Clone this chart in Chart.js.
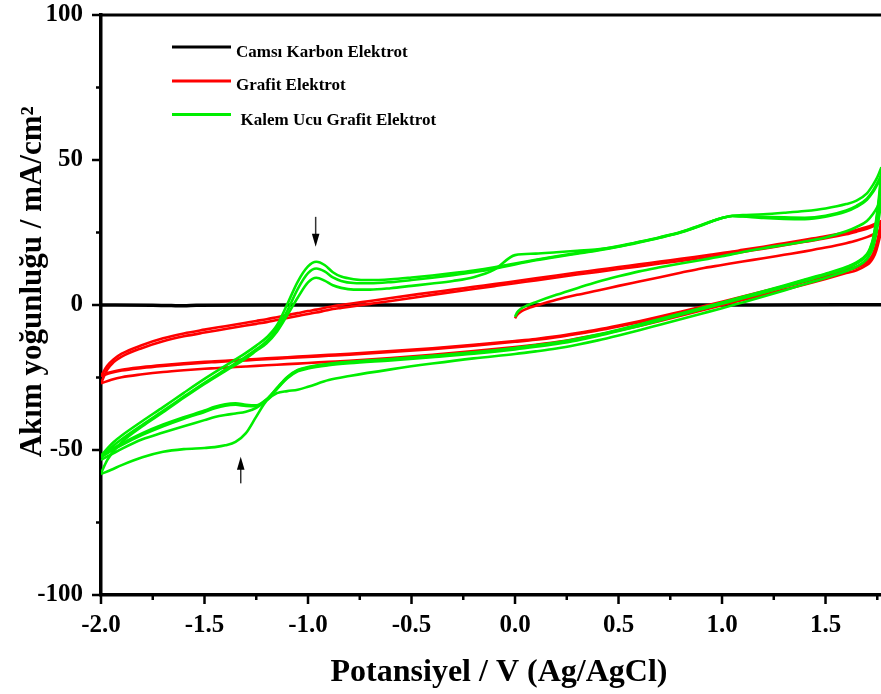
<!DOCTYPE html>
<html>
<head>
<meta charset="utf-8">
<script src="https://cdn.jsdelivr.net/npm/chart.js"></script>
<style>
  html, body { margin: 0; padding: 0; background: #fff; }
  canvas { display: block; }
</style>
</head>
<body>
<canvas id="cv" width="881" height="694"></canvas>
<script>
// --- data (V vs Ag/AgCl, mA/cm2) ---

const seriesNames = ['Camsı Karbon Elektrot', 'Grafit Elektrot', 'Kalem Ucu Grafit Elektrot'];
const xTickValues = [-2.0, -1.5, -1.0, -0.5, 0.0, 0.5, 1.0, 1.5];
const xTickLabels = ['-2.0', '-1.5', '-1.0', '-0.5', '0.0', '0.5', '1.0', '1.5'];
const yTickValues = [-100, -50, 0, 50, 100];
const yTickLabels = ['-100', '-50', '0', '50', '100'];

// potential grids for the three kinds of sweep
const vStart = [0.0, 0.01, 0.03, 0.06, 0.1, 0.2, 0.3, 0.4, 0.5, 0.6, 0.7, 0.8, 0.9, 1.0, 1.1, 1.2, 1.3, 1.4, 1.5, 1.6, 1.65, 1.7, 1.73, 1.75, 1.77];
const vUp = [-2.0, -1.97, -1.94, -1.9, -1.8, -1.7, -1.6, -1.5, -1.4, -1.3, -1.25, -1.2, -1.15, -1.1, -1.05, -1.0,
  -0.96, -0.92, -0.88, -0.84, -0.78, -0.7, -0.6, -0.5, -0.4, -0.3, -0.2, -0.1,
  0.0, 0.1, 0.2, 0.3, 0.4, 0.5, 0.6, 0.7, 0.8, 0.9, 0.95, 1.0, 1.05, 1.1, 1.2, 1.3, 1.4, 1.5, 1.6, 1.65, 1.7, 1.73, 1.75, 1.77];
const vDown = [1.77, 1.76, 1.745, 1.73, 1.715, 1.7, 1.65, 1.6, 1.5, 1.4, 1.3, 1.2, 1.1, 1.0,
  0.9, 0.8, 0.7, 0.6, 0.5, 0.4, 0.3, 0.2, 0.1, 0.0, -0.2, -0.4, -0.6, -0.8, -0.9, -1.0,
  -1.05, -1.1, -1.15, -1.2, -1.25, -1.3, -1.35, -1.4, -1.45, -1.5, -1.6, -1.7, -1.8, -1.9, -1.95, -2.0];

// glassy carbon: practically flat
const vBlack = [-2.0, -1.75, -1.66, -1.6, -1.54, -1.2, -0.5, 0.5, 1.2, 1.77];
const iBlack = [0, -0.05, -0.2, -0.3, -0.1, 0, 0, 0, 0, 0.1];

// graphite electrode
const rStart = [-4.6, -3.4, -2.2, -1.2, -0.3, 1.8, 3.5, 5.0, 6.6, 8.1, 9.6, 11.1, 12.6, 13.8, 15.0, 16.1, 17.3, 18.5, 19.8, 21.3, 22.2, 23.4, 24.3, 25.1, 26.2];
const rDown1 = [26.2, 22.8, 18.8, 16.2, 14.7, 13.8, 12.0, 11.0, 9.0, 7.1, 5.3, 3.5, 1.7, -0.1,
  -1.9, -3.7, -5.5, -7.2, -8.8, -10.3, -11.6, -12.8, -13.7, -14.5, -15.9, -17.2, -18.3, -19.2, -19.6, -20.0,
  -20.2, -20.4, -20.6, -20.8, -21.0, -21.2, -21.4, -21.6, -21.8, -22.0, -22.5, -23.1, -23.9, -24.9, -25.8, -27.0];
const rUp1 = [-27, -22.3, -19.8, -17.8, -14.8, -12.5, -10.8, -9.5, -8.3, -7.1, -6.5, -5.9, -5.2, -4.5, -3.8, -3.1,
  -2.6, -2.0, -1.4, -1.0, -0.4, 0.4, 1.4, 2.4, 3.5, 4.5, 5.5, 6.5,
  7.5, 8.5, 9.5, 10.5, 11.4, 12.4, 13.3, 14.3, 15.2, 16.2, 16.7, 17.2, 17.7, 18.3, 19.4, 20.6, 21.8, 23.0, 24.4, 25.3, 26.3, 27.1, 27.7, 28.4];
const rDown2 = [28.4, 24.6, 20.2, 17.3, 15.6, 14.6, 12.9, 11.9, 9.9, 8.0, 6.2, 4.4, 2.6, 0.8,
  -0.9, -2.6, -4.3, -5.9, -7.4, -8.8, -10.0, -11.1, -12.0, -12.7, -14.0, -15.2, -16.2, -17.1, -17.5, -17.9,
  -18.1, -18.3, -18.5, -18.7, -18.9, -19.1, -19.3, -19.5, -19.7, -19.9, -20.4, -21.0, -21.7, -22.6, -23.4, -24.5];
const rUp2 = [-24.5, -21, -18.8, -16.8, -13.8, -11.5, -9.8, -8.5, -7.3, -6.1, -5.5, -4.9, -4.2, -3.5, -2.8, -2.1,
  -1.6, -1.0, -0.4, 0.0, 0.6, 1.4, 2.4, 3.4, 4.4, 5.3, 6.3, 7.2,
  8.2, 9.2, 10.2, 11.2, 12.1, 13.1, 14.0, 15.0, 15.9, 16.9, 17.4, 17.9, 18.4, 19.0, 20.1, 21.3, 22.5, 23.7, 25.1, 25.9, 26.9, 27.7, 28.3, 29.0];
const rDown3 = [29.0, 25.2, 20.7, 17.7, 16.0, 15.0, 13.2, 12.2, 10.2, 8.3, 6.5, 4.7, 2.9, 1.1,
  -0.6, -2.3, -4.0, -5.6, -7.1, -8.5, -9.7, -10.8, -11.7, -12.4, -13.7, -14.9, -15.9, -16.8, -17.2, -17.6,
  -17.8, -18.0, -18.2, -18.4, -18.6, -18.8, -19.0, -19.2, -19.4, -19.6, -20.1, -20.7, -21.4, -22.3, -23.1, -24.2];

// pencil graphite electrode
const gStart = [-4.1, -2.6, -1.2, -0.1, 1.0, 3.5, 5.8, 8.0, 9.9, 11.6, 13.0, 14.3, 15.5, 16.8, 18.3, 19.6, 20.7, 21.9, 23.3, 25.4, 26.9, 29.0, 31.5, 33.8, 37.0];
const gDown1 = [37, 31, 24.5, 20, 17.5, 15.8, 13.2, 11.7, 9.3, 7.2, 5.0, 2.9, 0.9, -1.1,
  -3.0, -4.9, -6.8, -8.7, -10.5, -12.2, -13.7, -15.0, -16.0, -16.9, -18.4, -20.2, -22.2, -24.5, -25.9, -28.2,
  -29.2, -29.7, -30.4, -33.0, -38.5, -44.2, -47.2, -48.4, -49.0, -49.3, -49.7, -50.6, -52.5, -55.2, -56.8, -58.3];
const gUp1 = [-58, -53.5, -50.5, -47.3, -41.8, -37, -32, -27.2, -22.8, -18.4, -15.8, -13.2, -9.2, -3.5, 2.5, 7.8,
  9.4, 8.4, 6.8, 5.9, 5.3, 5.3, 5.8, 6.6, 7.4, 8.3, 9.6, 12.2,
  17.2, 17.7, 18.2, 18.7, 19.2, 20.2, 21.7, 23.3, 25.1, 27.5, 28.8, 30.0, 30.7, 30.6, 30.4, 30.2, 30.1, 30.8, 32.6, 34.2, 36.7, 39.5, 42.0, 45.0];
const gDown2 = [45, 37, 28.5, 22.5, 19.2, 17.3, 14.5, 12.9, 10.6, 8.6, 6.5, 4.5, 2.6, 0.7,
  -1.2, -3.1, -5.0, -6.9, -8.7, -10.4, -11.9, -13.1, -14.1, -15.0, -16.5, -17.7, -18.8, -19.8, -20.5, -21.6,
  -22.6, -25.0, -28.8, -32.5, -34.6, -34.4, -33.9, -34.2, -35.1, -36.4, -38.7, -41.2, -44.2, -47.8, -49.8, -52.0];
const gUp2 = [-52.5, -50.5, -48.5, -46.3, -41.3, -36.5, -31.6, -26.8, -22.3, -17.8, -15.3, -12.5, -8.2, -2.0, 5.5, 11.0,
  12.6, 11.6, 9.5, 8.3, 7.6, 7.5, 7.9, 8.6, 9.4, 10.3, 11.3, 12.5,
  14.0, 15.4, 16.6, 17.7, 18.8, 20.1, 21.6, 23.2, 25.0, 27.4, 28.8, 30.0, 30.7, 30.5, 30.0, 29.7, 29.6, 30.4, 32.2, 33.8, 36.3, 39.0, 41.5, 44.0];
const gDown3 = [44, 36.5, 28, 22.2, 19, 17.1, 14.3, 12.7, 10.4, 8.3, 6.2, 4.2, 2.3, 0.4,
  -1.5, -3.4, -5.3, -7.2, -9.0, -10.7, -12.2, -13.4, -14.4, -15.3, -16.8, -18.0, -19.1, -20.1, -20.8, -21.9,
  -22.9, -25.3, -29.0, -32.8, -34.9, -34.8, -34.4, -34.7, -35.6, -36.9, -39.2, -41.8, -44.8, -48.3, -50.3, -52.5];
const gUp3 = [-52, -49.5, -47.3, -45, -40, -35.2, -30.3, -25.5, -21, -16.5, -14, -11.2, -7, 0.3, 8, 13.3,
  14.9, 13.8, 11.3, 9.8, 8.9, 8.6, 8.9, 9.5, 10.2, 11.0, 11.9, 13.0,
  14.3, 15.6, 16.8, 17.9, 19.0, 20.3, 21.8, 23.4, 25.2, 27.6, 28.9, 30.0, 30.8, 31.0, 31.3, 31.8, 32.4, 33.3, 34.8, 36.0, 38.5, 41.5, 44.0, 47.5];
const gDown4 = [47.5, 38.5, 29.5, 23, 19.6, 17.6, 14.7, 13.1, 10.8, 8.8, 6.7, 4.7, 2.8, 0.9,
  -1.0, -2.9, -4.8, -6.7, -8.5, -10.2, -11.7, -12.9, -13.9, -14.8, -16.3, -17.5, -18.6, -19.6, -20.3, -21.4,
  -22.4, -24.8, -28.6, -32.6, -35.5, -36.8, -37.4, -37.9, -38.6, -39.7, -41.8, -44.0, -46.3, -49.6, -51.5, -53.4];

// --- styling ---
const FONT = "'Liberation Serif', 'Times New Roman', serif";
const BLACK = '#000000', RED = '#ff0000', GREEN = '#00ee00';

Chart.defaults.font.family = FONT;
Chart.defaults.color = '#000';

function sweep(vs, is, color, width, order) {
  return {
    data: vs.map((v, k) => ({ x: v, y: is[k] })),
    showLine: true,
    borderColor: color,
    backgroundColor: color,
    borderWidth: width,
    pointRadius: 0,
    fill: false,
    cubicInterpolationMode: 'monotone',
    order: order
  };
}

const datasets = [
  sweep(vStart, gStart, GREEN, 2.6, 1),
  sweep(vDown, gDown1, GREEN, 2.6, 1),
  sweep(vUp, gUp1, GREEN, 2.6, 1),
  sweep(vDown, gDown2, GREEN, 2.6, 1),
  sweep(vUp, gUp2, GREEN, 2.6, 1),
  sweep(vDown, gDown3, GREEN, 2.6, 1),
  sweep(vUp, gUp3, GREEN, 2.6, 1),
  sweep(vDown, gDown4, GREEN, 2.6, 1),
  sweep(vStart, rStart, RED, 2.6, 2),
  sweep(vDown, rDown1, RED, 2.6, 2),
  sweep(vUp, rUp1, RED, 2.6, 2),
  sweep(vDown, rDown2, RED, 2.6, 2),
  sweep(vUp, rUp2, RED, 2.6, 2),
  sweep(vDown, rDown3, RED, 2.6, 2),
  sweep(vBlack, iBlack, BLACK, 3.5, 3)
];

// frame top edge + major/minor tick marks (outward)
const xMinor = [-1.75, -1.25, -0.75, -0.25, 0.25, 0.75, 1.25, 1.75];
const yMinor = [-75, -25, 25, 75];
const frame = {
  id: 'frame',
  afterDraw(chart) {
    const { ctx, chartArea: a, scales: { x, y } } = chart;
    ctx.save();
    ctx.strokeStyle = '#000';
    ctx.lineWidth = 3;
    ctx.beginPath();
    ctx.moveTo(a.left - 1.5, a.top);
    ctx.lineTo(a.right, a.top);
    ctx.stroke();
    ctx.lineWidth = 2.5;
    ctx.beginPath();
    xTickValues.forEach(v => { const p = x.getPixelForValue(v); ctx.moveTo(p, a.bottom); ctx.lineTo(p, a.bottom + 9); });
    xMinor.forEach(v => { const p = x.getPixelForValue(v); ctx.moveTo(p, a.bottom); ctx.lineTo(p, a.bottom + 5); });
    yTickValues.forEach(v => { const p = y.getPixelForValue(v); ctx.moveTo(a.left, p); ctx.lineTo(a.left - 9, p); });
    yMinor.forEach(v => { const p = y.getPixelForValue(v); ctx.moveTo(a.left, p); ctx.lineTo(a.left - 5, p); });
    ctx.stroke();
    ctx.restore();
  }
};

// the two peak arrows (data coordinates)
const arrowMarks = [
  { v: -0.963, from: 30.4, to: 20.1 },
  { v: -1.325, from: -61.5, to: -52.3 }
];
const arrows = {
  id: 'arrows',
  afterDatasetsDraw(chart) {
    const { ctx, scales: { x, y } } = chart;
    ctx.save();
    arrowMarks.forEach(m => {
      const px = x.getPixelForValue(m.v);
      const y0 = y.getPixelForValue(m.from);
      const y1 = y.getPixelForValue(m.to);
      const dir = Math.sign(y1 - y0);
      ctx.strokeStyle = '#333';
      ctx.lineWidth = 1.5;
      ctx.beginPath();
      ctx.moveTo(px, y0);
      ctx.lineTo(px, y1 - dir * 10);
      ctx.stroke();
      ctx.fillStyle = '#000';
      ctx.beginPath();
      ctx.moveTo(px, y1);
      ctx.lineTo(px - 3.8, y1 - dir * 13);
      ctx.lineTo(px + 3.8, y1 - dir * 13);
      ctx.closePath();
      ctx.fill();
    });
    ctx.restore();
  }
};

// legend drawn inside the plot, top left
const legendRows = [
  { color: BLACK, lineY: 47, textX: 236, textY: 57 },
  { color: RED, lineY: 81, textX: 236, textY: 89.5 },
  { color: GREEN, lineY: 114.5, textX: 240.5, textY: 124.5 }
];
const legendBox = {
  id: 'legendBox',
  afterDraw(chart) {
    const ctx = chart.ctx;
    ctx.save();
    ctx.font = 'bold 17px ' + FONT;
    ctx.textBaseline = 'alphabetic';
    ctx.textAlign = 'left';
    legendRows.forEach((r, k) => {
      ctx.strokeStyle = r.color;
      ctx.lineWidth = 2.8;
      ctx.beginPath();
      ctx.moveTo(172, r.lineY);
      ctx.lineTo(231, r.lineY);
      ctx.stroke();
      ctx.fillStyle = '#000';
      ctx.fillText(seriesNames[k], r.textX, r.textY);
    });
    ctx.restore();
  }
};

new Chart(document.getElementById('cv'), {
  type: 'scatter',
  data: { datasets: datasets },
  options: {
    responsive: false,
    animation: false,
    devicePixelRatio: 1,
    layout: { padding: { top: 15, right: 0, bottom: 0, left: 0 } },
    plugins: { legend: { display: false }, tooltip: { enabled: false } },
    scales: {
      x: {
        type: 'linear',
        min: -2.0,
        max: 1.768,
        grid: { display: false, drawTicks: false },
        border: { display: true, color: '#000', width: 3.5 },
        afterBuildTicks: s => { s.ticks = xTickValues.map(v => ({ value: v })); },
        ticks: {
          autoSkip: false,
          maxRotation: 0,
          padding: 18,
          color: '#000',
          font: { size: 25, weight: 'bold', lineHeight: 1 },
          callback: (v, i) => xTickLabels[i]
        },
        title: {
          display: true,
          text: '  Potansiyel / V (Ag/AgCl)',
          color: '#000',
          font: { size: 32, weight: 'bold' },
          padding: { top: 0, bottom: 2 }
        },
        afterFit: s => { s.height = 99; s.paddingLeft = 0; s.paddingRight = 0; }
      },
      y: {
        min: -100,
        max: 100,
        grid: { display: false, drawTicks: false },
        border: { display: true, color: '#000', width: 3.5 },
        afterBuildTicks: s => { s.ticks = yTickValues.map(v => ({ value: v })); },
        ticks: {
          padding: 18,
          color: '#000',
          font: { size: 25, weight: 'bold', lineHeight: 1 },
          callback: (v, i) => yTickLabels[i]
        },
        title: {
          display: true,
          text: '      Akım yoğunluğu / mA/cm²',
          color: '#000',
          font: { size: 31, weight: 'bold' },
          padding: { top: 14, bottom: 0 }
        },
        afterFit: s => { s.width = 101; s.paddingTop = 0; s.paddingBottom = 0; }
      }
    }
  },
  plugins: [frame, arrows, legendBox]
});
</script>
</body>
</html>
